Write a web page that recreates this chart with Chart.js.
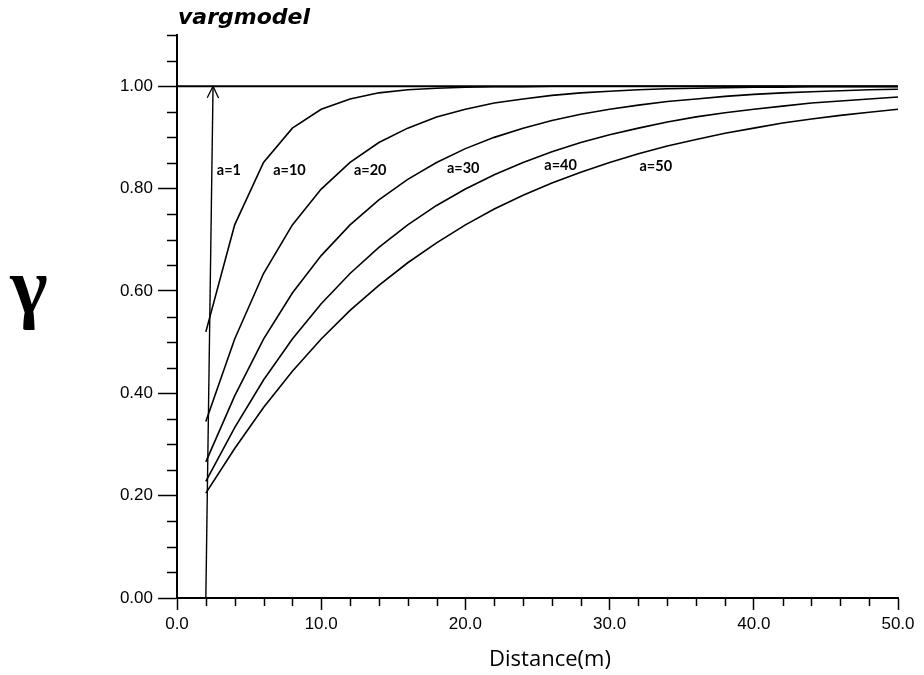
<!DOCTYPE html>
<html>
<head>
<meta charset="utf-8">
<script src="https://cdn.jsdelivr.net/npm/chart.js@4.4.1/dist/chart.umd.min.js"></script>
<style>
  html, body { margin: 0; padding: 0; background: #fff; }
  #wrap { width: 924px; height: 675px; }
</style>
</head>
<body>
<div id="wrap"><canvas id="chart"></canvas></div>
<script>
// === Datos ===
const distancias = [2, 4, 6, 8, 10, 12, 14, 16, 18, 20, 22, 24, 26, 28, 30, 32, 34, 36, 38, 40, 42, 44, 46, 48, 50];
const gammaA10 = [0.52, 0.729, 0.851, 0.918, 0.955, 0.975, 0.987, 0.993, 0.996, 0.998, 0.999, 0.999, 1, 1, 1, 1, 1, 1, 1, 1, 1, 1, 1, 1, 1];
const gammaA20 = [0.345, 0.506, 0.634, 0.729, 0.799, 0.851, 0.89, 0.918, 0.94, 0.955, 0.967, 0.975, 0.982, 0.987, 0.99, 0.993, 0.995, 0.996, 0.997, 0.998, 0.998, 0.999, 0.999, 0.999, 0.999];
const gammaA30 = [0.266, 0.395, 0.506, 0.596, 0.669, 0.729, 0.778, 0.818, 0.851, 0.878, 0.9, 0.918, 0.933, 0.945, 0.955, 0.963, 0.97, 0.975, 0.98, 0.984, 0.987, 0.989, 0.991, 0.993, 0.994];
const gammaA40 = [0.228, 0.333, 0.426, 0.506, 0.575, 0.634, 0.685, 0.729, 0.767, 0.799, 0.827, 0.851, 0.872, 0.89, 0.905, 0.918, 0.93, 0.94, 0.948, 0.955, 0.961, 0.967, 0.971, 0.975, 0.979];
const gammaA50 = [0.205, 0.292, 0.372, 0.443, 0.506, 0.562, 0.611, 0.655, 0.694, 0.729, 0.76, 0.787, 0.811, 0.832, 0.851, 0.868, 0.883, 0.896, 0.908, 0.918, 0.928, 0.936, 0.943, 0.949, 0.955];

// a=1: sube casi vertical hasta la meseta (con flecha)
const a1X = [2, 2.5];
const a1Y = [0, 1.0];
// meseta (sill)
const mesetaX = [0, 50];
const mesetaY = [1, 1];

// etiquetas de las curvas (en unidades de datos)
const etiquetas = ["a=1", "a=10", "a=20", "a=30", "a=40", "a=50"];
const etiquetaX = [3.6, 7.8, 13.4, 19.85, 26.6, 33.2];
const etiquetaY = [0.835, 0.835, 0.835, 0.839, 0.845, 0.843];

function puntos(xs, ys) {
  return xs.map((x, i) => ({ x: x, y: ys[i] }));
}

function serie(xs, ys, ancho) {
  return {
    data: puntos(xs, ys),
    borderColor: "#000",
    borderWidth: ancho,
    pointRadius: 0,
    showLine: true,
    tension: 0,
    fill: false
  };
}

const esMayorY = v => Math.round(v * 100) % 20 === 0 && v <= 1.0001;
const esMayorX = v => Math.round(v) % 10 === 0;

// === Decoraciones: ticks menores, flecha, textos ===
const decoracion = {
  id: "decoracion",
  afterDraw(chart) {
    const ctx = chart.ctx;
    const sx = chart.scales.x;
    const sy = chart.scales.y;
    const area = chart.chartArea;

    ctx.save();
    ctx.strokeStyle = "#000";
    ctx.lineWidth = 1.5;

    // ticks menores eje Y
    sy.ticks.forEach(t => {
      if (esMayorY(t.value)) return;
      const py = Math.round(sy.getPixelForValue(t.value)) + 0.5;
      ctx.beginPath();
      ctx.moveTo(area.left - 10, py);
      ctx.lineTo(area.left, py);
      ctx.stroke();
    });
    // ticks menores eje X
    sx.ticks.forEach(t => {
      if (esMayorX(t.value)) return;
      const px = Math.round(sx.getPixelForValue(t.value)) + 0.5;
      ctx.beginPath();
      ctx.moveTo(px, area.bottom);
      ctx.lineTo(px, area.bottom + 8);
      ctx.stroke();
    });

    // flecha en el extremo de a=1
    const x0 = sx.getPixelForValue(a1X[0]), y0 = sy.getPixelForValue(a1Y[0]);
    const x1 = sx.getPixelForValue(a1X[1]), y1 = sy.getPixelForValue(a1Y[1]);
    const ang = Math.atan2(y1 - y0, x1 - x0);
    const largo = 13, abre = Math.PI / 7;
    ctx.lineWidth = 1.3;
    ctx.beginPath();
    ctx.moveTo(x1 - largo * Math.cos(ang - abre), y1 - largo * Math.sin(ang - abre));
    ctx.lineTo(x1, y1);
    ctx.lineTo(x1 - largo * Math.cos(ang + abre), y1 - largo * Math.sin(ang + abre));
    ctx.stroke();

    // etiquetas a=...
    ctx.fillStyle = "#000";
    ctx.font = "bold 14.5px Lato, 'Open Sans', sans-serif";
    ctx.textAlign = "center";
    ctx.textBaseline = "middle";
    etiquetas.forEach((txt, i) => {
      ctx.fillText(txt, sx.getPixelForValue(etiquetaX[i]), sy.getPixelForValue(etiquetaY[i]));
    });

    // titulo
    ctx.font = "oblique bold 22px 'DejaVu Sans', sans-serif";
    ctx.textAlign = "left";
    ctx.textBaseline = "alphabetic";
    ctx.fillText("vargmodel", area.left + 1, 24);

    // simbolo gamma
    ctx.font = "bold 80px 'Liberation Serif', 'DejaVu Serif', serif";
    ctx.textAlign = "center";
    ctx.fillText("γ", 29, 313);

    // titulo eje X
    ctx.font = "22px 'Open Sans', 'Noto Sans', sans-serif";
    ctx.textBaseline = "middle";
    ctx.fillText("Distance(m)", 550, 660);

    ctx.restore();
  }
};

new Chart(document.getElementById("chart"), {
  type: "scatter",
  data: {
    datasets: [
      serie(mesetaX, mesetaY, 2),
      serie(a1X, a1Y, 1.4),
      serie(distancias, gammaA10, 1.6),
      serie(distancias, gammaA20, 1.6),
      serie(distancias, gammaA30, 1.6),
      serie(distancias, gammaA40, 1.6),
      serie(distancias, gammaA50, 1.6)
    ]
  },
  options: {
    responsive: true,
    maintainAspectRatio: false,
    animation: false,
    events: [],
    layout: { padding: { top: 35, right: 26, left: 0, bottom: 0 } },
    plugins: {
      legend: { display: false },
      tooltip: { enabled: false },
      title: { display: false }
    },
    scales: {
      x: {
        type: "linear",
        min: 0,
        max: 50,
        afterFit: s => { s.height = 77; },
        border: { color: "#000", width: 2 },
        grid: {
          drawOnChartArea: false,
          drawTicks: true,
          tickLength: 12,
          tickWidth: 1.5,
          tickColor: c => (c.tick && esMayorX(c.tick.value)) ? "#000" : "rgba(0,0,0,0)"
        },
        ticks: {
          stepSize: 2,
          autoSkip: false,
          maxRotation: 0,
          padding: 4,
          color: "#000",
          font: { family: "'Liberation Sans', Arial, sans-serif", size: 17 },
          callback: v => esMayorX(v) ? v.toFixed(1) : ""
        }
      },
      y: {
        type: "linear",
        min: 0,
        max: 1.1,
        afterFit: s => { s.width = 177; },
        border: { color: "#000", width: 2 },
        grid: {
          drawOnChartArea: false,
          drawTicks: true,
          tickLength: 19,
          tickWidth: 1.5,
          tickColor: c => (c.tick && esMayorY(c.tick.value)) ? "#000" : "rgba(0,0,0,0)"
        },
        ticks: {
          stepSize: 0.05,
          autoSkip: false,
          padding: 5,
          color: "#000",
          font: { family: "'Liberation Sans', Arial, sans-serif", size: 17 },
          callback: v => esMayorY(v) ? v.toFixed(2) : ""
        }
      }
    }
  },
  plugins: [decoracion]
});
</script>
</body>
</html>
